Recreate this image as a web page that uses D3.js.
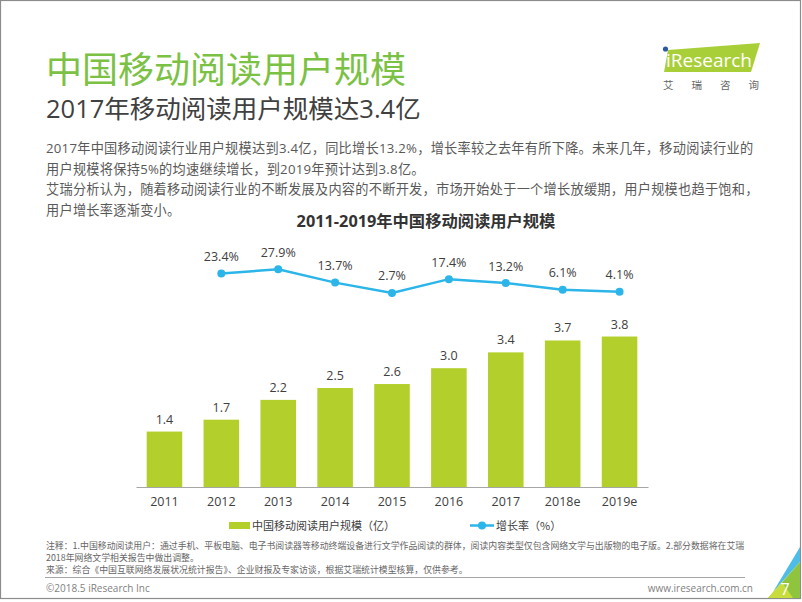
<!DOCTYPE html>
<html><head><meta charset="utf-8">
<script src="https://cdn.jsdelivr.net/npm/d3@7"></script>
<style>
html,body{margin:0;padding:0;background:#fff;}
svg{display:block;font-family:"Open Sans","Noto Sans CJK SC",sans-serif;}
</style></head>
<body><svg id="c" width="802" height="602"></svg>
<script>
const categories = ["2011","2012","2013","2014","2015","2016","2017","2018e","2019e"];
const users = [1.4,1.7,2.2,2.5,2.6,3.0,3.4,3.7,3.8];
const growthYears = ["2012","2013","2014","2015","2016","2017","2018e","2019e"];
const growth = [23.4,27.9,13.7,2.7,17.4,13.2,6.1,4.1];
const barLegend = "中国移动阅读用户规模（亿）";
const lineLegend = "增长率（%）";

const svg = d3.select("#c");
const CJK = "'Noto Sans CJK SC',sans-serif";
const MIX = "'Open Sans','Noto Sans CJK SC',sans-serif";

// page frame
svg.append("rect").attr("x",0.5).attr("y",0.5).attr("width",800).attr("height",598)
  .attr("fill","none").attr("stroke","#8c8c8c").attr("stroke-width",1.2);

// header
svg.append("text").attr("x",46).attr("y",83).attr("font-family",CJK).attr("font-size",36)
  .attr("fill","#7bc143").text("中国移动阅读用户规模");
svg.append("text").attr("x",46).attr("y",118).attr("font-family",MIX).attr("font-size",25.5)
  .attr("fill","#404040").text("2017年移动阅读用户规模达3.4亿");

// logo
svg.append("polygon").attr("points","668,50 760,43 751,72 664,72").attr("fill","#a9cf38");
svg.append("text").attr("x",666).attr("y",67).attr("font-family","'Open Sans',sans-serif")
  .attr("font-size",19).attr("fill","#fff").text("iResearch");
svg.append("circle").attr("cx",665.5).attr("cy",49).attr("r",2.6).attr("fill","#2c5aa0");
svg.append("text").attr("x",663).attr("y",89).attr("font-family",CJK).attr("font-size",10.5)
  .attr("fill","#666").attr("letter-spacing",18).text("艾瑞咨询");

// body text
const body = [
  "2017年中国移动阅读行业用户规模达到3.4亿，同比增长13.2%，增长率较之去年有所下降。未来几年，移动阅读行业的",
  "用户规模将保持5%的均速继续增长，到2019年预计达到3.8亿。",
  "艾瑞分析认为，随着移动阅读行业的不断发展及内容的不断开发，市场开始处于一个增长放缓期，用户规模也趋于饱和，",
  "用户增长率逐渐变小。"
];
svg.selectAll("text.body").data(body).enter().append("text").attr("class","body")
  .attr("x",46).attr("y",(d,i)=>153+i*20.7).attr("font-family",MIX).attr("font-size",13.2)
  .attr("letter-spacing",0.26).attr("fill","#595959").text(d=>d);

// chart title
svg.append("text").attr("x",426).attr("y",227).attr("text-anchor","middle").attr("font-family",MIX)
  .attr("font-size",16.3).attr("font-weight","bold").attr("fill","#333").text("2011-2019年中国移动阅读用户规模");

// scales
const x = d3.scaleBand().domain(categories).range([136,648]).paddingInner(0.375).paddingOuter(0.1875);
const yBar = d3.scaleLinear().domain([0,4]).range([487,328.6]);
const yLine = d3.scaleLinear().domain([0,30]).range([295.5,267.3]);

// bars
svg.append("g").selectAll("rect").data(categories).enter().append("rect")
  .attr("x",d=>x(d)).attr("width",x.bandwidth())
  .attr("y",(d,i)=>yBar(users[i])).attr("height",(d,i)=>yBar(0)-yBar(users[i]))
  .attr("fill","#b3cf2c");
svg.append("g").selectAll("text").data(categories).enter().append("text")
  .attr("x",d=>x(d)+x.bandwidth()/2).attr("y",(d,i)=>yBar(users[i])-8)
  .attr("text-anchor","middle").attr("font-family",MIX).attr("font-size",12.5).attr("fill","#404040")
  .text((d,i)=>users[i].toFixed(1));

// axis
const ax = svg.append("g").attr("transform","translate(0,487)")
  .call(d3.axisBottom(x).tickSize(0).tickPadding(10));
ax.select(".domain").attr("stroke","#a6a6a6").attr("stroke-width",1.2);
ax.selectAll("text").attr("font-family",MIX).attr("font-size",12.5).attr("fill","#404040");

// line
const cx = d=>x(d)+x.bandwidth()/2;
const line = d3.line().x((d,i)=>cx(growthYears[i])).y(d=>yLine(d));
svg.append("path").datum(growth).attr("d",line).attr("fill","none")
  .attr("stroke","#2cb5e9").attr("stroke-width",2.5);
svg.append("g").selectAll("circle").data(growth).enter().append("circle")
  .attr("cx",(d,i)=>cx(growthYears[i])).attr("cy",d=>yLine(d)).attr("r",4).attr("fill","#2cb5e9");
svg.append("g").selectAll("text").data(growth).enter().append("text")
  .attr("x",(d,i)=>cx(growthYears[i])).attr("y",d=>yLine(d)-12.5)
  .attr("text-anchor","middle").attr("font-family",MIX).attr("font-size",12.5).attr("fill","#404040")
  .text(d=>d.toFixed(1)+"%");

// legend
svg.append("rect").attr("x",229).attr("y",522).attr("width",21).attr("height",7).attr("fill","#b3cf2c");
svg.append("text").attr("x",252).attr("y",529.5).attr("font-family",CJK).attr("font-size",11)
  .attr("fill","#404040").text(barLegend);
svg.append("line").attr("x1",470).attr("x2",494).attr("y1",525.5).attr("y2",525.5)
  .attr("stroke","#2cb5e9").attr("stroke-width",2.5);
svg.append("circle").attr("cx",482).attr("cy",525.5).attr("r",4).attr("fill","#2cb5e9");
svg.append("text").attr("x",496).attr("y",529.5).attr("font-family",CJK).attr("font-size",11)
  .attr("fill","#404040").text(lineLegend);

// footnotes
const notes = [
  "注释：1.中国移动阅读用户：通过手机、平板电脑、电子书阅读器等移动终端设备进行文学作品阅读的群体，阅读内容类型仅包含网络文学与出版物的电子版。2.部分数据将在艾瑞",
  "2018年网络文学相关报告中做出调整。",
  "来源：综合《中国互联网络发展状况统计报告》、企业财报及专家访谈，根据艾瑞统计模型核算，仅供参考。"
];
svg.selectAll("text.note").data(notes).enter().append("text").attr("class","note")
  .attr("x",46).attr("y",(d,i)=>549+i*12).attr("font-family",CJK).attr("font-size",8.9)
  .attr("fill","#666").text(d=>d);
svg.append("line").attr("x1",45).attr("x2",745).attr("y1",577.5).attr("y2",577.5)
  .attr("stroke","#a6a6a6").attr("stroke-width",1);
svg.append("text").attr("x",46).attr("y",592).attr("font-family",MIX).attr("font-size",10)
  .attr("fill","#7f7f7f").text("©2018.5 iResearch Inc");
svg.append("text").attr("x",753).attr("y",592).attr("text-anchor","end").attr("font-family",MIX)
  .attr("font-size",10).attr("fill","#7f7f7f").text("www.iresearch.com.cn");

// corner decoration
svg.append("polygon").attr("points","773,592 800,547 800,562").attr("fill","#4dbde8");
svg.append("polygon").attr("points","768,598 800,562 800,598").attr("fill","#8fc43e");
svg.append("polygon").attr("points","768,598 782,582 793,598").attr("fill","#c8dc3c");
svg.append("text").attr("x",785).attr("y",595).attr("text-anchor","middle").attr("font-family",MIX)
  .attr("font-size",16).attr("fill","#fff").text("7");
</script></body></html>
